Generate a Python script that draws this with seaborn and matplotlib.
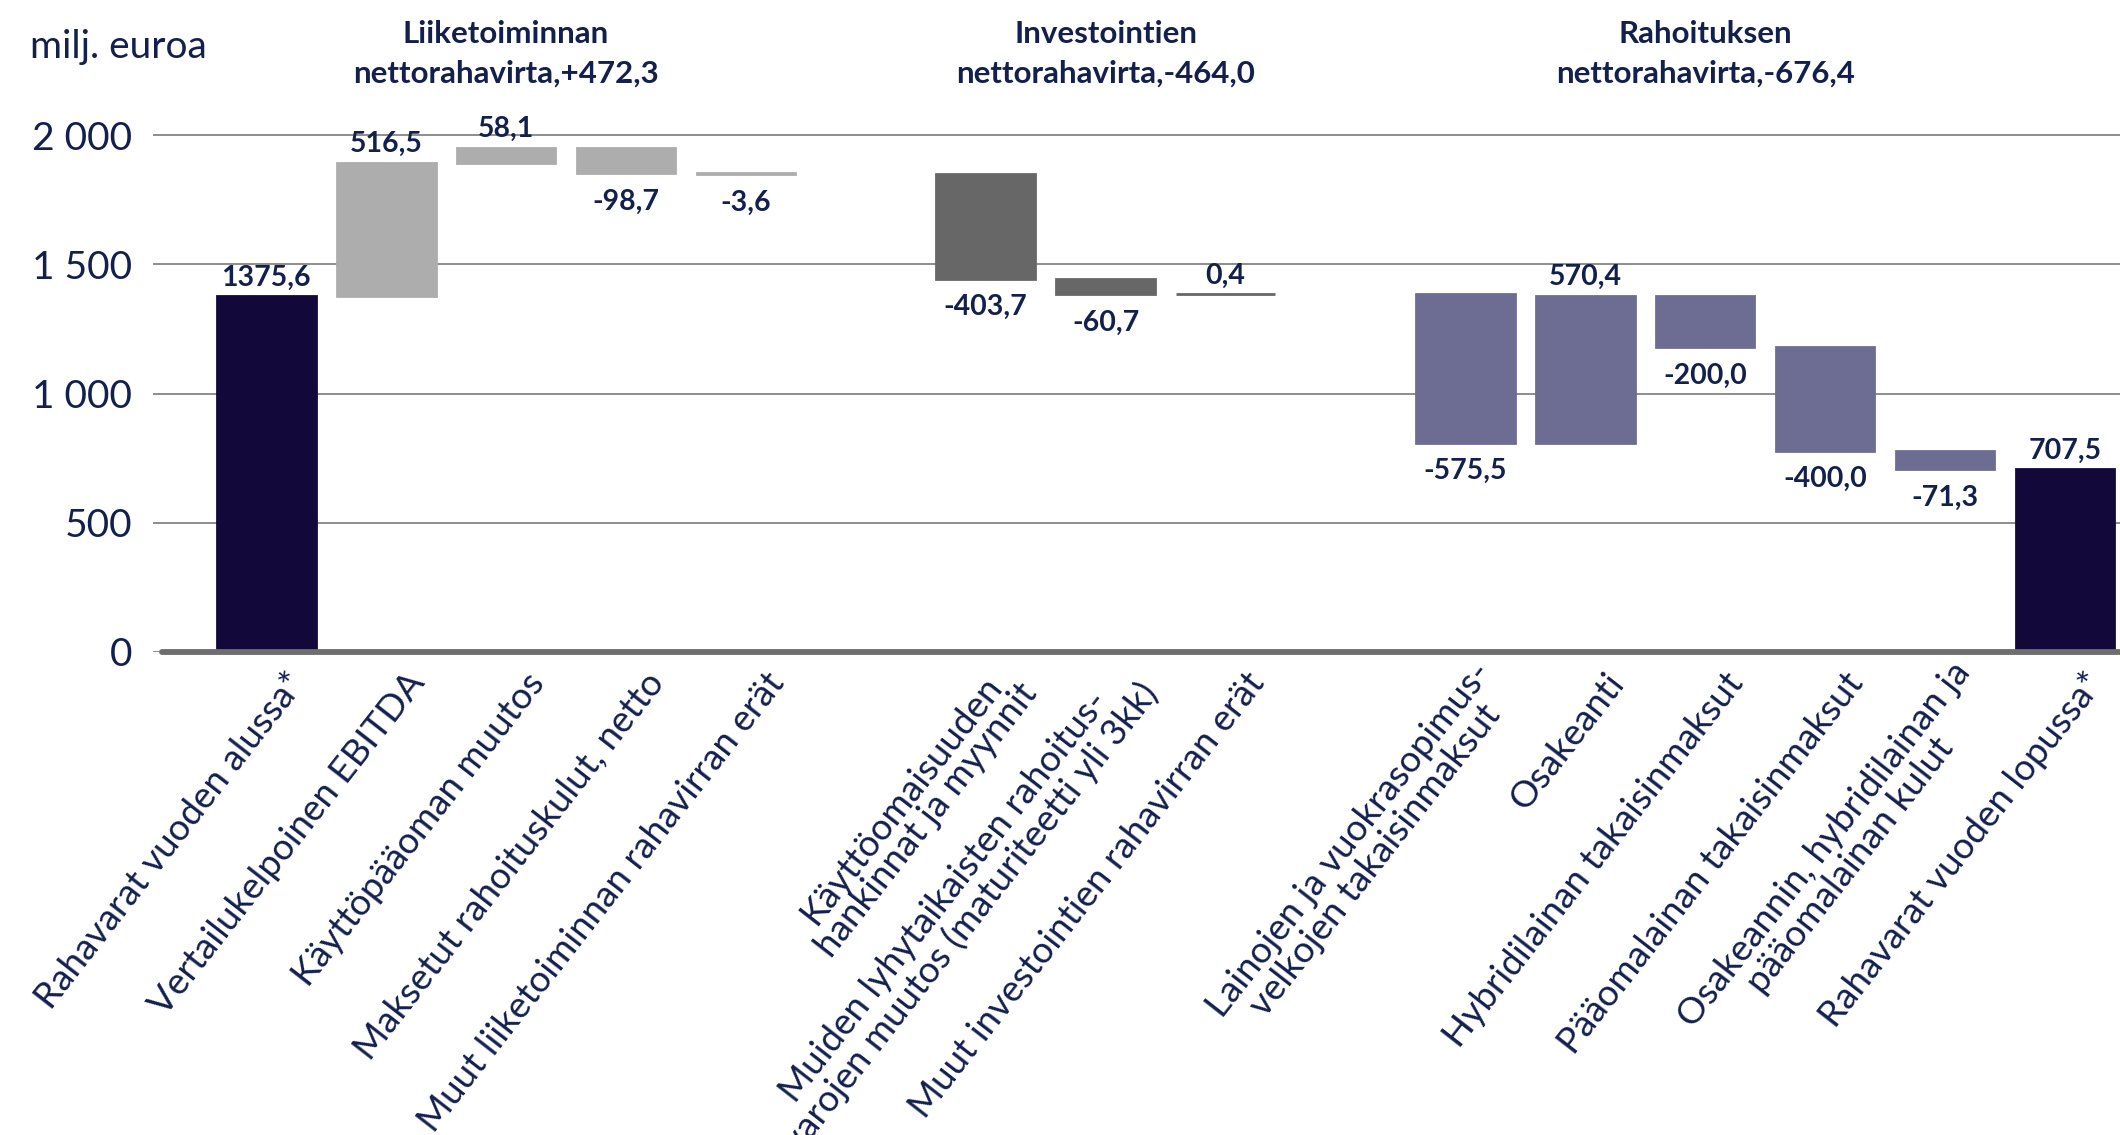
import matplotlib
matplotlib.use("Agg")
import matplotlib.pyplot as plt
import matplotlib.transforms as mtransforms
import numpy as np
import pandas as pd
import seaborn as sns

# Cash flow bridge, milj. euroa
items = [
    "Rahavarat vuoden alussa*",
    "Vertailukelpoinen EBITDA",
    "Käyttöpääoman muutos",
    "Maksetut rahoituskulut, netto",
    "Muut liiketoiminnan rahavirran erät",
    "Käyttöomaisuuden\nhankinnat ja myynnit",
    "Muiden lyhytaikaisten rahoitus-\nvarojen muutos (maturiteetti yli 3kk)",
    "Muut investointien rahavirran erät",
    "Lainojen ja vuokrasopimus-\nvelkojen takaisinmaksut",
    "Osakeanti",
    "Hybridilainan takaisinmaksut",
    "Pääomalainan takaisinmaksut",
    "Osakeannin, hybridilainan ja\npääomalainan kulut",
    "Rahavarat vuoden lopussa*",
]
amounts = [1375.6, 516.5, 58.1, -98.7, -3.6,
           -403.7, -60.7, 0.4,
           -575.5, 570.4, -200.0, -400.0, -71.3,
           707.5]
kinds = (["Rahavarat"] + ["Liiketoiminta"] * 4 + ["Investoinnit"] * 3
         + ["Rahoitus"] * 5 + ["Rahavarat"])

section_titles = [
    "Liiketoiminnan\nnettorahavirta,+472,3",
    "Investointien\nnettorahavirta,-464,0",
    "Rahoituksen\nnettorahavirta,-676,4",
]
section_title_over = [items[2], items[6], items[10]]

y_ticks = [0, 500, 1000, 1500, 2000]
y_tick_labels = ["0", "500", "1 000", "1 500", "2 000"]
unit_label = "milj. euroa"

palette = {
    "Rahavarat": "#0e0042",
    "Liiketoiminta": "#adadad",
    "Investoinnit": "#676767",
    "Rahoitus": "#67679a",
}
TEXT = "#13204d"

# running totals -> floating bar extents
lower, upper = [], []
running = 0.0
for amt, kind in zip(amounts, kinds):
    if kind == "Rahavarat":
        lo, hi = 0.0, amt
        running = amt
    else:
        start = running
        running = running + amt
        lo, hi = min(start, running), max(start, running)
    lower.append(lo)
    upper.append(hi)

df = pd.DataFrame({
    "item": items, "amount": amounts, "kind": kinds,
    "lower": lower, "upper": upper,
})
df["span"] = df["upper"] - df["lower"]

# empty slots separate the three sections
order = items[:5] + [" "] + items[5:8] + ["  "] + items[8:]

sns.set_style("white")
plt.rcParams["font.family"] = ["Lato", "DejaVu Sans"]

W, H = 2120, 1135
fig = plt.figure(figsize=(W / 100, H / 100), dpi=100)
ax_left, ax_zero, ax_top = 153, 652, 70.4
ax = fig.add_axes([ax_left / W, 1 - ax_zero / H, 1 - ax_left / W, (ax_zero - ax_top) / H])

sns.barplot(data=df, x="item", y="span", hue="kind", order=order,
            hue_order=list(palette), palette=palette, dodge=False,
            width=0.823, legend=False, ax=ax, zorder=3)

lower_of = dict(zip(items, lower))
for p in ax.patches:
    slot = int(round(p.get_x() + p.get_width() / 2))
    p.set_y(lower_of[order[slot]])
    p.set_edgecolor(p.get_facecolor())
    p.set_linewidth(2.0)

ax.set_xlim(-0.945, 15.46)
ax.set_ylim(0, 2250)

# grid and baseline
ax.set_yticks(y_ticks)
ax.set_yticklabels(y_tick_labels)
ax.yaxis.grid(True, color="#858585", linewidth=1.3, zorder=0)
ax.set_axisbelow(True)
ax.axhline(0, xmin=9 / (W - ax_left), xmax=1, color="#6e6e6e",
           linewidth=4.2, zorder=5, clip_on=False)
for s in ax.spines.values():
    s.set_visible(False)
ax.set_xlabel("")
ax.set_ylabel("")
ax.tick_params(axis="y", length=0, pad=15, labelsize=28, labelcolor=TEXT)
ax.tick_params(axis="x", length=0, pad=18, labelsize=26.5, labelcolor=TEXT)

# rotated category labels
ax.set_xticks(range(len(order)))
ax.set_xticklabels([n if n.strip() else "" for n in order])
shift = mtransforms.ScaledTranslation(0.32, 0, fig.dpi_scale_trans)
for lab in ax.get_xticklabels():
    lab.set_rotation(52)
    lab.set_rotation_mode("anchor")
    lab.set_ha("right")
    lab.set_va("center")
    lab.set_multialignment("center")
    lab.set_linespacing(1.0)
    lab.set_transform(lab.get_transform() + shift)

# value labels
for item, amt, kind, lo, hi in zip(items, amounts, kinds, lower, upper):
    x = order.index(item)
    txt = f"{amt:.1f}".replace(".", ",")
    if kind == "Rahavarat" or amt >= 0:
        ax.annotate(txt, (x, hi), xytext=(0, 4), textcoords="offset points",
                    ha="center", va="bottom", fontsize=20.5,
                    fontweight="bold", color=TEXT, zorder=6)
    else:
        ax.annotate(txt, (x, lo), xytext=(0, -11), textcoords="offset points",
                    ha="center", va="top", fontsize=20.5,
                    fontweight="bold", color=TEXT, zorder=6)

# section headings
head_tr = mtransforms.blended_transform_factory(ax.transData, fig.transFigure)
for title, over in zip(section_titles, section_title_over):
    ax.text(order.index(over), 1 - 54 / H, title, transform=head_tr,
            ha="center", va="center", fontsize=22.5, fontweight="bold",
            color=TEXT, linespacing=1.5)

fig.text(30 / W, 1 - 47 / H, unit_label, ha="left", va="center",
         fontsize=28, color=TEXT)

fig.savefig("out.png", dpi=100)
